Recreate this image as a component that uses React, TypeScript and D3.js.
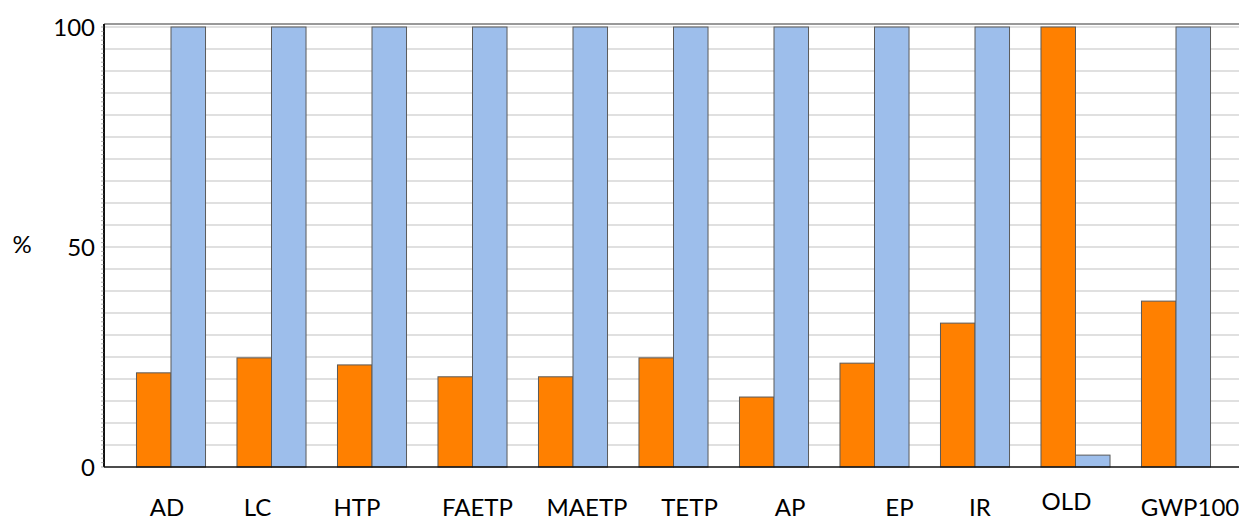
import React from "react";
import * as d3 from "d3";

const categories = ["AD", "LC", "HTP", "FAETP", "MAETP", "TETP", "AP", "EP", "IR", "OLD", "GWP100"];
const seriesOrange = [21.4, 24.8, 23.2, 20.5, 20.5, 24.8, 15.9, 23.6, 32.7, 100, 37.7];
const seriesBlue = [100, 100, 100, 100, 100, 100, 100, 100, 100, 2.7, 100];
const yTicks = [0, 50, 100];
const yLabel = "%";

// layout-only nudges for category labels (px)
const LABEL_NUDGE = [-4, -14, -15, 5, 14, 16, 16, 25, 5, -9, 14];
const LABEL_DY = [0, 0, 0, 0, 0, 0, 0, 0, 0, -6, 0];

const W = 1239;
const H = 522;
const plotLeft = 104;
const plotTop = 24;
const y0 = 467;
const y100 = 27;

export default function App() {
  const y = d3.scaleLinear().domain([0, 100]).range([y0, y100]);
  const step = 100.5;
  const start = 171 - step / 2;
  const x = d3
    .scaleBand<string>()
    .domain(categories)
    .range([start, start + step * categories.length])
    .paddingInner(0.313)
    .paddingOuter(0.1565);
  const sub = d3.scaleBand<string>().domain(["o", "b"]).range([0, x.bandwidth()]);

  const minor = d3.range(5, 101, 5);
  const font = "Lato, 'Open Sans', sans-serif";

  return (
    <svg width={W} height={H} style={{ position: "absolute", left: 0, top: 0, background: "#fff" }}>
      {/* grid */}
      {minor.map((v) => (
        <line key={v} x1={plotLeft} x2={W} y1={y(v)} y2={y(v)} stroke="#e0e0e0" strokeWidth={2} />
      ))}
      <line x1={plotLeft} x2={W} y1={plotTop} y2={plotTop} stroke="#999" strokeWidth={2} />
      {/* bars */}
      {categories.map((c, i) => {
        const gx = x(c)!;
        return (
          <g key={c}>
            <rect
              x={gx + sub("o")!}
              y={y(seriesOrange[i])}
              width={sub.bandwidth()}
              height={y0 - y(seriesOrange[i])}
              fill="#FF8000"
              stroke="#5a5a5a"
              strokeWidth={1}
            />
            <rect
              x={gx + sub("b")!}
              y={y(seriesBlue[i])}
              width={sub.bandwidth()}
              height={y0 - y(seriesBlue[i])}
              fill="#9DBEEB"
              stroke="#5a5a5a"
              strokeWidth={1}
            />
          </g>
        );
      })}
      {/* axes */}
      <line x1={plotLeft} x2={W} y1={y0} y2={y0} stroke="#111" strokeWidth={1.5} />
      <line x1={plotLeft} x2={plotLeft} y1={plotTop} y2={y0} stroke="#111" strokeWidth={2} />
      {d3.range(0, 101, 1).map((v) => (
        <line key={"t" + v} x1={plotLeft - 3} x2={plotLeft} y1={y(v)} y2={y(v)} stroke="#777" strokeWidth={0.6} />
      ))}
      {yTicks.map((t) => (
        <text
          key={t}
          x={95}
          y={y(t) + 9}
          textAnchor="end"
          fontFamily={font}
          fontSize={24}
          fill="#000"
        >
          {t}
        </text>
      ))}
      <text x={22} y={253} textAnchor="middle" fontFamily={font} fontSize={24} fill="#000">
        {yLabel}
      </text>
      {categories.map((c, i) => (
        <text
          key={"l" + c}
          x={x(c)! + x.bandwidth() / 2 + LABEL_NUDGE[i]}
          y={516 + LABEL_DY[i]}
          textAnchor="middle"
          fontFamily={font}
          fontSize={24}
          fill="#000"
        >
          {c}
        </text>
      ))}
    </svg>
  );
}
